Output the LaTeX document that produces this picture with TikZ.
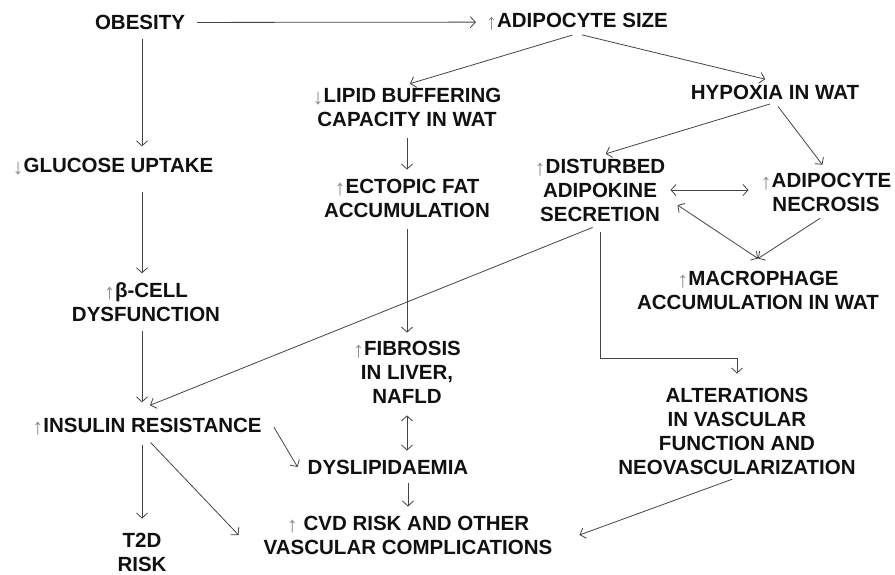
\documentclass[tikz,border=0pt]{standalone}
\usepackage{fontspec}
\setmainfont{Liberation Sans}
\usetikzlibrary{arrows.meta,calc}
\definecolor{ink}{HTML}{111111}
\definecolor{wirec}{HTML}{444444}
\definecolor{upc}{HTML}{8C8C8C}
\tikzset{lbl/.style={font=\bfseries\fontsize{20.5}{24}\selectfont,text=ink,align=center,inner sep=3pt},
  arr/.style={draw=wirec,line width=.8pt,shorten <=6pt,shorten >=6pt}}
\newcommand{\incr}{\raisebox{-2pt}{\mdseries\fontsize{22}{22}\selectfont\color{upc}↑}}
\newcommand{\decr}{\raisebox{-2pt}{\mdseries\fontsize{22}{22}\selectfont\color{upc}↓}}

\begin{document}
\begin{tikzpicture}[x=1pt,y=-1pt,>={Straight Barb[length=5pt,width=11pt]}]
\fill[white] (0,0) rectangle (895,574);
\useasboundingbox (0,0) rectangle (895,574);
\coordinate (leftcol) at (142,0);
% left column
\node[lbl] (obesity) at (140,22.5) {OBESITY};
\node[lbl] (glucose) at (113,167) {\decr GLUCOSE UPTAKE};
\node[lbl] (betacell) at (146,302) {\incr β-CELL\\DYSFUNCTION};
\node[lbl] (insulin) at (147,427) {\incr INSULIN RESISTANCE};
\node[lbl] (tdrisk) at (142,552) {T2D\\RISK};
% middle column
\node[lbl] (adsize) at (577,22) {\incr ADIPOCYTE SIZE};
\node[lbl] (lipid) at (407,107) {\decr LIPID BUFFERING\\CAPACITY IN WAT};
\node[lbl] (ectopic) at (407,198) {\incr ECTOPIC FAT\\ACCUMULATION};
\node[lbl] (fibrosis) at (407,372) {\incr FIBROSIS\\IN LIVER,\\NAFLD};
\node[lbl] (dyslip) at (388,467) {DYSLIPIDAEMIA};
\node[lbl] (cvd) at (408,535) {\incr\ CVD RISK AND OTHER\\VASCULAR COMPLICATIONS};
% right column
\node[lbl] (hypoxia) at (775,92) {HYPOXIA IN WAT};
\node[lbl] (adipok) at (600,190) {\incr DISTURBED\\ADIPOKINE\\SECRETION};
\node[lbl] (necrosis) at (826,192) {\incr ADIPOCYTE\\NECROSIS};
\node[lbl] (macro) at (758,290) {\incr MACROPHAGE\\ACCUMULATION IN WAT};
\node[lbl] (alter) at (737,431) {ALTERATIONS\\IN VASCULAR\\FUNCTION AND\\NEOVASCULARIZATION};

% arrows
\draw[arr,->,shorten <=9pt,shorten >=7pt] (obesity) -- (adsize);
\draw[arr,->,shorten <=5pt,shorten >=3pt] (adsize.south) -- (lipid.north);
\draw[arr,->,shorten <=5pt,shorten >=10pt] (adsize.south) -- (hypoxia.north);
\draw[arr,->,shorten <=5pt] (hypoxia.south) -- (adipok.north);
\draw[arr,->,shorten <=5pt] (hypoxia.south) -- (necrosis.north);
\draw[arr,->,shorten <=9pt] (lipid.south) -- (ectopic.north);
\draw[arr,->,shorten <=9pt,shorten >=5pt] (ectopic.south) -- (fibrosis.north);
\draw[arr,<->,shorten <=9pt] (fibrosis.south) -- (fibrosis.south |- dyslip.north);
\draw[arr,->] (dyslip.south -| cvd.north) -- (cvd.north);
\draw[arr,->,shorten >=9pt] (leftcol |- obesity.south) -- (leftcol |- glucose.north);
\draw[arr,->,shorten <=13pt] (leftcol |- glucose.south) -- (leftcol |- betacell.north);
\draw[arr,->,shorten >=13pt] (leftcol |- betacell.south) -- (leftcol |- insulin.north);
\draw[arr,->,shorten >=11pt] (leftcol |- insulin.south) -- (leftcol |- tdrisk.north);
\draw[arr,->,shorten <=0pt,shorten >=0pt] ($(insulin.east)+(9,0)$) -- ($(dyslip.west)+(-7,0)$);
\draw[arr,->,shorten <=5pt,shorten >=0pt] (insulin.south) -- ($(cvd.west)+(-22,0)$);
\draw[arr,->,shorten <=8pt,shorten >=0pt] (adipok.south) -- ($(insulin.north)+(3,-10)$);
\draw[arr,->,shorten <=8pt,shorten >=11pt] (adipok.south) |- ($(alter.north)+(0,-26)$) -- (alter.north);
\draw[arr,->,shorten <=5pt,shorten >=0pt] (alter.south) -- ($(cvd.east)+(24,0)$);
\draw[arr,<->,shorten <=2pt,shorten >=9pt] (adipok.east) -- (adipok.east -| necrosis.west);
\draw[arr,<->,shorten <=0pt,shorten >=0pt] ($(adipok.east)+(9,15)$) -- ($(macro.north)+(0,-9)$);
\draw[arr,->,shorten <=7pt,shorten >=0pt] (necrosis.south) -- ($(macro.north)+(0,-9)$);
\end{tikzpicture}
\end{document}
